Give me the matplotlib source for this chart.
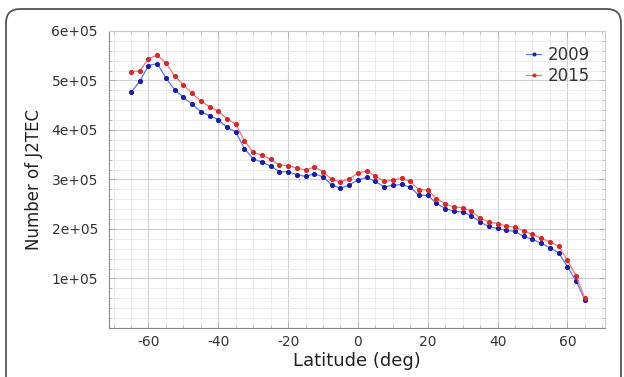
import numpy as np
import matplotlib
matplotlib.use("Agg")
import matplotlib.pyplot as plt
from matplotlib.patches import FancyBboxPatch
from matplotlib.ticker import MultipleLocator, FuncFormatter

# Latitude bins (deg)
latitude = np.arange(-65, 65.1, 2.5)

# Number of J2TEC per latitude bin (units of 1e5)
j2tec_2009 = [4.76, 4.98, 5.30, 5.34, 5.05, 4.81, 4.66, 4.52, 4.37, 4.29, 4.21, 4.05, 3.96,
              3.62, 3.42, 3.35, 3.27, 3.16, 3.15, 3.10, 3.06, 3.12, 3.05, 2.89, 2.82, 2.89,
              2.99, 3.04, 2.96, 2.85, 2.88, 2.90, 2.84, 2.68, 2.68, 2.52, 2.41, 2.36, 2.34,
              2.27, 2.14, 2.05, 2.01, 1.97, 1.95, 1.85, 1.79, 1.71, 1.62, 1.52, 1.24, 0.95,
              0.57]
j2tec_2015 = [5.18, 5.19, 5.44, 5.51, 5.36, 5.09, 4.91, 4.74, 4.58, 4.47, 4.38, 4.22, 4.12,
              3.78, 3.55, 3.49, 3.41, 3.29, 3.28, 3.23, 3.19, 3.25, 3.16, 3.00, 2.95, 3.01,
              3.13, 3.17, 3.07, 2.96, 2.99, 3.02, 2.96, 2.79, 2.79, 2.61, 2.51, 2.44, 2.43,
              2.36, 2.22, 2.14, 2.11, 2.06, 2.04, 1.96, 1.89, 1.81, 1.74, 1.65, 1.37, 1.05,
              0.60]

y2009 = np.array(j2tec_2009) * 1e5
y2015 = np.array(j2tec_2015) * 1e5

plt.rcParams['axes.unicode_minus'] = False
plt.rcParams['font.family'] = 'DejaVu Sans'

fig = plt.figure(figsize=(6.24, 3.77), dpi=100)
ax = fig.add_axes([0.1747, 0.130, 0.795, 0.788])

ax.plot(latitude, y2009, color='#5a78f0', lw=0.9, marker='o', ms=2.7,
        mfc='#1c1ca8', mec='#1c1ca8', label='2009', zorder=3)
ax.plot(latitude, y2015, color='#f07878', lw=0.9, marker='o', ms=2.7,
        mfc='#d42a2a', mec='#d42a2a', label='2015', zorder=3)

ax.set_xlim(-71.3, 70.8)
ax.set_ylim(0, 6e5)
ax.xaxis.set_major_locator(MultipleLocator(20))
ax.xaxis.set_minor_locator(MultipleLocator(5))
ax.yaxis.set_major_locator(MultipleLocator(1e5))
ax.yaxis.set_minor_locator(MultipleLocator(2e4))


def sci_fmt(v, pos):
    if v <= 0:
        return ''
    return '%de+05' % round(v / 1e5)


ax.yaxis.set_major_formatter(FuncFormatter(sci_fmt))

ax.grid(which='major', color='#d0d0d0', lw=0.8)
ax.grid(which='minor', color='#e8e8e8', lw=0.6)
ax.set_axisbelow(True)

ax.tick_params(which='both', direction='in', top=True, right=True,
               color='#aaaaaa', labelsize=10, labelcolor='#333333')
ax.tick_params(which='major', length=4, width=0.6)
ax.tick_params(which='minor', length=2.5, width=0.5)
ax.tick_params(axis='y', pad=8)
ax.tick_params(axis='x', pad=5)

for side in ['left', 'bottom']:
    ax.spines[side].set_color('#888888')
for side in ['top', 'right']:
    ax.spines[side].set_color('#cccccc')

ax.set_xlabel('Latitude (deg)', fontsize=13, color='#222222', labelpad=2)
ax.set_ylabel('Number of J2TEC', fontsize=12, color='#222222', labelpad=6)

ax.legend(loc='upper right', frameon=False, fontsize=12, handlelength=0.9,
          handletextpad=0.4, labelspacing=0.2, borderaxespad=0.5,
          markerscale=0.7, labelcolor='#333333')

# rounded outer frame, cut by the bottom edge
frame = FancyBboxPatch((6, -30), 615, 398, boxstyle='round,pad=0,rounding_size=14',
                       transform=None, fill=False, ec='#555555', lw=1.3)
fig.patches.append(frame)

fig.savefig('out.png', dpi=100)
